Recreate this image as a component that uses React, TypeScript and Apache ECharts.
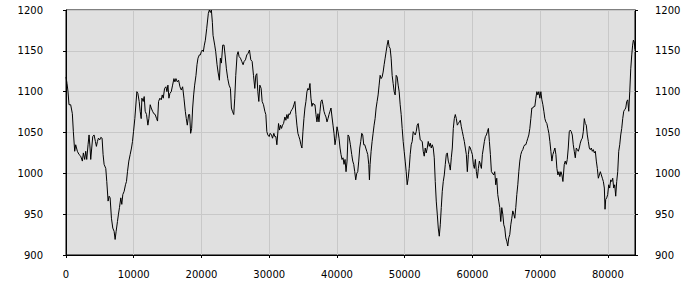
import React, { useEffect, useRef } from "react";
import * as echarts from "echarts";

const yMin = 900;
const yMax = 1200;
const yStep = 50;
const xMin = 0;
const xMax = 84000;
const xStep = 10000;

const points: [number, number][] = [
  [0, 1118], [150, 1110], [296, 1100], [444, 1084], [691, 1084], [937, 1073], [1085, 1051], [1283, 1027], [1431, 1035], [1677, 1027],
  [1924, 1023], [2171, 1021], [2417, 1015], [2565, 1025], [2763, 1017], [2911, 1027], [3059, 1017], [3256, 1035], [3404, 1047], [3552, 1031],
  [3651, 1017], [3799, 1031], [3947, 1045], [4144, 1047], [4341, 1039], [4489, 1033], [4637, 1039], [4785, 1043], [4983, 1041], [5131, 1044],
  [5328, 1043], [5476, 1023], [5624, 1011], [5871, 1006], [6019, 990], [6216, 966], [6364, 972], [6512, 970], [6709, 945], [6907, 933],
  [7104, 929], [7252, 919], [7400, 929], [7597, 941], [7745, 950], [7893, 958], [8091, 970], [8239, 962], [8387, 974], [8584, 978],
  [8781, 986], [8929, 990], [9077, 1002], [9275, 1015], [9472, 1023], [9669, 1031], [9817, 1039], [9965, 1051], [10162, 1067],
  [10459, 1100], [10607, 1098], [10804, 1088], [10952, 1076], [11100, 1067], [11199, 1092], [11396, 1088], [11544, 1094], [11692, 1076], [11889, 1072],
  [12087, 1059], [12235, 1067], [12432, 1084], [12580, 1080], [12777, 1076], [12974, 1073], [13172, 1072], [13369, 1067], [13517, 1064], [13665, 1088],
  [13862, 1092], [14060, 1090], [14208, 1096], [14356, 1092], [14553, 1104], [14750, 1106], [14898, 1100], [15046, 1108], [15194, 1092], [15342, 1098],
  [15540, 1100], [15737, 1108], [15934, 1116], [16082, 1112], [16230, 1116], [16428, 1112], [16625, 1114], [16822, 1106], [17020, 1102], [17217, 1106],
  [17414, 1092], [17612, 1076], [17760, 1067], [17908, 1059], [18105, 1072], [18253, 1072], [18401, 1049], [18549, 1055], [18697, 1080], [18845, 1096],
  [18993, 1108], [19190, 1120], [19338, 1133], [19486, 1141], [19683, 1145], [19831, 1145], [19979, 1149], [20127, 1151], [20275, 1149], [20423, 1157],
  [20571, 1163], [20769, 1177],
  [21016, 1196], [21164, 1200], [21312, 1197], [21460, 1200], [21608, 1185], [21707, 1169], [21953, 1157], [22101, 1149], [22299, 1133], [22447, 1124],
  [22644, 1114], [22792, 1141], [22940, 1135], [23137, 1157], [23334, 1157], [23482, 1145], [23680, 1128], [23877, 1116], [24074, 1108], [24272, 1104],
  [24420, 1080], [24568, 1076], [24765, 1072], [24913, 1092], [25061, 1120], [25258, 1145], [25406, 1149], [25554, 1143], [25752, 1141], [25949, 1137],
  [26146, 1133], [26294, 1137], [26492, 1139], [26689, 1145], [26886, 1147], [27084, 1151], [27281, 1139], [27478, 1137], [27676, 1120], [27873, 1104],
  [28021, 1120], [28169, 1122], [28317, 1100], [28465, 1088], [28613, 1108], [28810, 1104], [28958, 1088], [29156, 1084], [29353, 1076], [29501, 1072],
  [29649, 1051], [29797, 1047], [29994, 1045], [30142, 1049], [30340, 1047], [30487, 1043], [30685, 1049], [30833, 1045], [30981, 1045], [31129, 1035],
  [31376, 1061], [31524, 1053], [31672, 1059], [31820, 1055], [31968, 1059], [32116, 1061], [32313, 1069], [32461, 1065], [32609, 1072], [32757, 1067],
  [32905, 1073], [33053, 1072], [33201, 1076], [33349, 1078], [33497, 1080], [33645, 1084], [33793, 1088], [33941, 1072], [34089, 1059], [34237, 1049],
  [34385, 1045], [34533, 1041], [34681, 1035], [34829, 1031], [34977, 1051], [35125, 1067], [35273, 1080], [35421, 1088], [35569, 1100], [35717, 1104],
  [35865, 1102], [36013, 1110], [36161, 1092], [36309, 1082], [36457, 1086], [36605, 1084], [36753, 1084], [36901, 1072], [37049, 1063], [37197, 1073],
  [37345, 1063], [37493, 1076], [37641, 1088], [37789, 1090], [37937, 1084], [38085, 1076], [38233, 1072], [38381, 1069], [38529, 1063], [38677, 1067],
  [38825, 1072], [38973, 1076], [39121, 1080], [39269, 1069], [39417, 1059], [39565, 1049], [39713, 1035], [39861, 1043], [40009, 1057], [40157, 1051],
  [40305, 1043], [40453, 1031], [40601, 1023], [40749, 1017], [40897, 1019], [41045, 1011], [41193, 1017], [41341, 1002], [41489, 1015], [41637, 1047],
  [41785, 1045],
  [41983, 1035], [42180, 1023], [42328, 1015], [42476, 1011], [42624, 1002], [42772, 992], [42920, 1000], [43068, 1002], [43216, 1015], [43364, 1031],
  [43512, 1039], [43660, 1049], [43808, 1047], [43956, 1035], [44104, 1035], [44252, 1031], [44400, 1027], [44548, 1023], [44696, 1011], [44795, 992],
  [44893, 1011], [45041, 1027], [45189, 1039], [45337, 1049], [45485, 1059], [45633, 1067], [45781, 1080], [45929, 1088], [46077, 1096], [46225, 1108],
  [46373, 1120], [46521, 1116], [46669, 1118], [46817, 1124], [46965, 1133], [47113, 1141], [47261, 1149], [47409, 1157], [47557, 1163], [47705, 1155],
  [47853, 1153], [48001, 1141], [48149, 1120], [48297, 1110], [48445, 1100], [48593, 1096], [48741, 1120], [48889, 1118], [49037, 1108], [49185, 1100],
  [49333, 1084], [49481, 1072], [49629, 1055], [49777, 1039], [49925, 1027], [50073, 1015], [50221, 1002], [50369, 986], [50517, 994], [50665, 1006],
  [50813, 1023], [50961, 1035], [51109, 1039], [51257, 1051], [51405, 1049], [51553, 1047], [51701, 1051], [51849, 1059], [51997, 1061], [52145, 1051],
  [52293, 1041],
  [52589, 1039], [52737, 1027], [52885, 1021], [53033, 1031], [53181, 1025], [53329, 1031], [53477, 1039], [53625, 1033], [53773, 1037], [53921, 1031],
  [54069, 1035], [54217, 1031], [54365, 1019], [54513, 990], [54661, 966], [54809, 950], [54957, 933], [55105, 923], [55253, 937], [55401, 958],
  [55549, 978], [55697, 990], [55845, 998], [55993, 1011], [56141, 1023], [56289, 1025], [56437, 1015], [56585, 1011], [56733, 1004], [56881, 1019],
  [57029, 1031], [57177, 1055], [57325, 1067], [57473, 1072], [57621, 1067], [57769, 1059], [57917, 1061], [58065, 1063], [58213, 1065], [58361, 1057],
  [58509, 1051], [58657, 1045], [58805, 1039], [58953, 1031], [59101, 1023], [59249, 1002], [59397, 1023], [59545, 1033], [59693, 1031], [59841, 1027],
  [59989, 1023], [60137, 1011], [60285, 1006], [60433, 1017], [60581, 1002], [60729, 994], [60877, 1006], [61025, 1015], [61173, 1011], [61321, 1006],
  [61469, 1023], [61617, 1031], [61765, 1039], [61913, 1045], [62061, 1047], [62209, 1051], [62357, 1055], [62505, 1039], [62653, 1023], [62801, 1002],
  [63147, 998], [63295, 1002], [63443, 986], [63591, 994], [63739, 974], [63887, 966], [64035, 958], [64183, 941], [64331, 958], [64479, 950],
  [64627, 937], [64775, 933], [64923, 921], [65070, 917], [65219, 911], [65366, 921], [65514, 925], [65662, 937], [65810, 945], [65958, 954],
  [66106, 950], [66254, 945], [66402, 958], [66550, 974], [66698, 986], [66846, 1002], [66994, 1015], [67142, 1023], [67290, 1027], [67438, 1029],
  [67586, 1033], [67734, 1035], [67882, 1035], [68030, 1039], [68178, 1043], [68326, 1047], [68474, 1055], [68622, 1067], [68770, 1080], [68918, 1080],
  [69066, 1082], [69214, 1082], [69362, 1092], [69510, 1100], [69658, 1096], [69806, 1100], [69954, 1092], [70102, 1100], [70250, 1090], [70398, 1084],
  [70546, 1076], [70694, 1067], [70842, 1063], [70990, 1061], [71138, 1055], [71286, 1049], [71434, 1039], [71582, 1027], [71730, 1015], [71878, 1023],
  [72026, 1027], [72174, 1031], [72322, 1023], [72470, 1006], [72618, 998], [72766, 1002], [72914, 996], [73062, 1002], [73210, 998], [73358, 990],
  [73556, 1011], [73704, 1015], [73852, 1011], [74000, 1017], [74148, 1031], [74296, 1051], [74444, 1053], [74592, 1051], [74740, 1047], [74888, 1035],
  [75036, 1027], [75184, 1019], [75332, 1031], [75480, 1029], [75628, 1027], [75776, 1031], [75924, 1037], [76072, 1041], [76220, 1043], [76368, 1051],
  [76516, 1067], [76664, 1061], [76812, 1059], [76960, 1047], [77108, 1039], [77256, 1031], [77404, 1029], [77552, 1031], [77700, 1027], [77848, 1029],
  [77996, 1025], [78144, 1027], [78292, 1015], [78440, 1006], [78588, 994], [78736, 998], [78884, 1002], [79032, 998], [79180, 994], [79328, 990],
  [79476, 982], [79574, 956], [79673, 968], [79821, 970], [79969, 974], [80117, 986], [80265, 982], [80413, 992], [80561, 990], [80709, 994],
  [80857, 982], [81005, 986], [81153, 972], [81301, 990], [81449, 1002], [81597, 1027], [81745, 1035], [81893, 1047], [82041, 1055], [82189, 1067],
  [82337, 1076], [82485, 1078], [82633, 1080], [82781, 1088], [82929, 1090], [83077, 1076], [83225, 1100], [83373, 1128], [83521, 1145], [83650, 1157],
  [83760, 1163], [83880, 1161], [84000, 1152],
];

export default function App() {
  const ref = useRef<HTMLDivElement>(null);
  useEffect(() => {
    document.body.style.margin = "0";
    const chart = echarts.init(ref.current!, null, { renderer: "svg" });
    const plain = (v: number) => String(v);
    const font = { fontFamily: "DejaVu Sans", fontSize: 10, color: "#000", formatter: plain };
    const axisLine = { show: true, onZero: false, lineStyle: { color: "#000", width: 1 } };
    const axisTick = { show: true, length: 3, lineStyle: { color: "#000", width: 1 } };
    const splitLine = { show: true, lineStyle: { color: "#c8c8c8", width: 1 } };
    chart.setOption({
      animation: false,
      backgroundColor: "#ffffff",
      grid: {
        left: 66,
        right: 65,
        top: 10,
        bottom: 45,
        show: true,
        backgroundColor: "#e0e0e0",
        borderColor: "#000",
        borderWidth: 1,
      },
      xAxis: {
        type: "value",
        min: xMin,
        max: xMax,
        interval: xStep,
        axisLine,
        axisTick,
        axisLabel: { ...font, margin: 14, showMaxLabel: false },
        splitLine,
      },
      yAxis: [
        {
          type: "value",
          position: "left",
          min: yMin,
          max: yMax,
          interval: yStep,
          axisLine,
          axisTick,
          axisLabel: { ...font, margin: 23 },
          splitLine,
        },
        {
          type: "value",
          position: "right",
          min: yMin,
          max: yMax,
          interval: yStep,
          axisLine,
          axisTick,
          axisLabel: { ...font, margin: 20 },
          splitLine: { show: false },
        },
      ],
      series: [
        {
          type: "line",
          data: points,
          yAxisIndex: 0,
          showSymbol: false,
          symbol: "none",
          lineStyle: { color: "#000", width: 1 },
        },
      ],
    });
    return () => chart.dispose();
  }, []);
  return <div ref={ref} style={{ width: 700, height: 300 }} />;
}
